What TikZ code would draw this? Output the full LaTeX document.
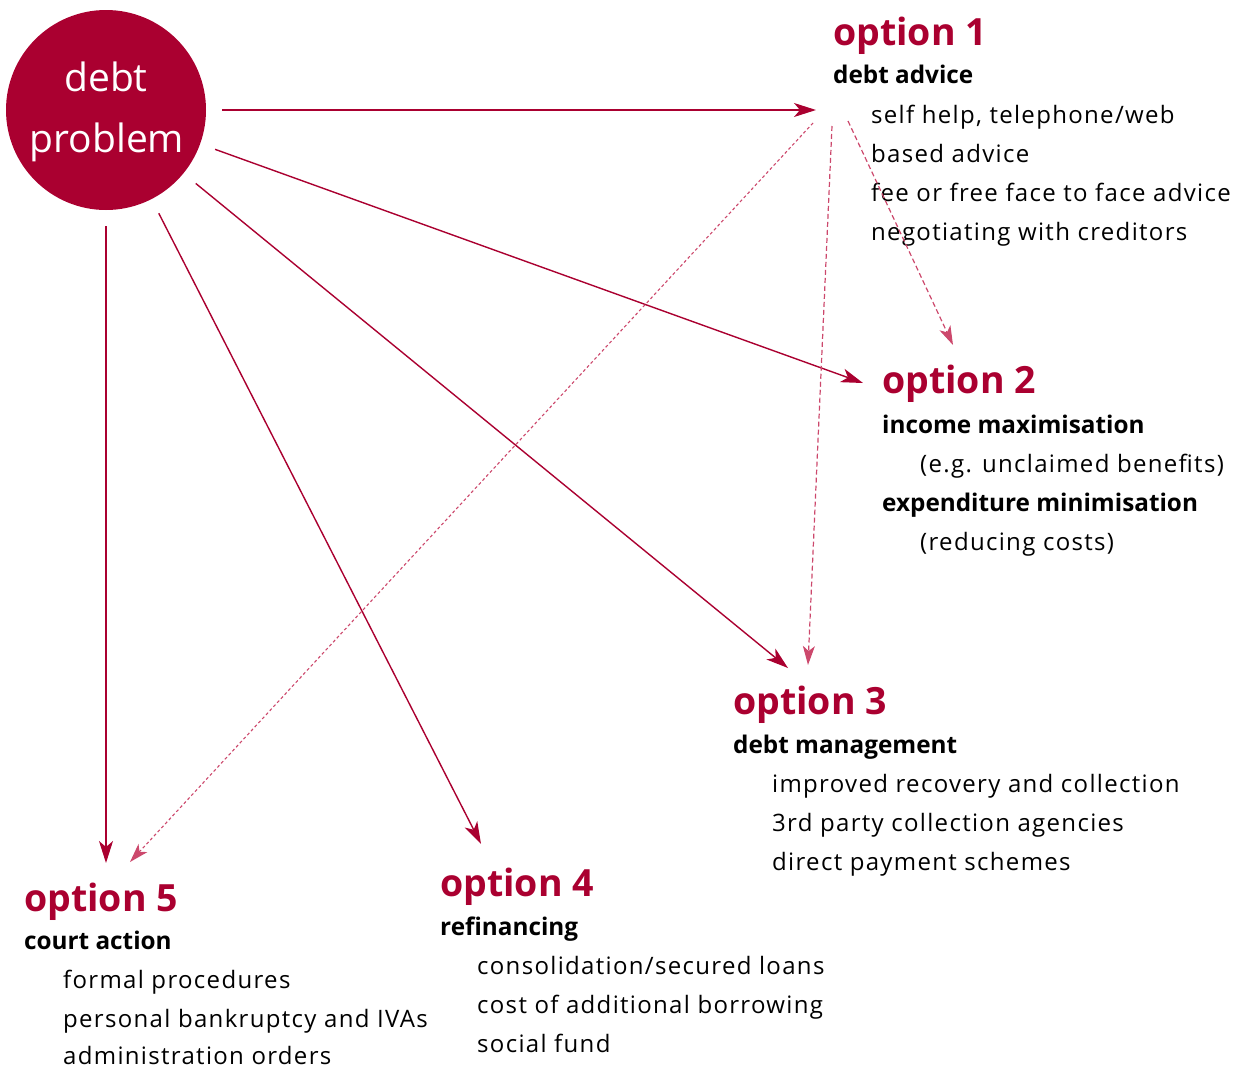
\documentclass[tikz,border=0pt]{standalone}
\usepackage{fontspec}
\setmainfont{Open Sans}
\newfontfamily\itemfont[LetterSpace=5.5]{Open Sans}
\usetikzlibrary{arrows.meta}
\definecolor{crim}{RGB}{170,0,48}
\definecolor{pinkd}{RGB}{204,72,108}
\tikzset{
  head/.style={anchor=base west, inner sep=0pt, text=crim, font=\fontsize{37.5}{40}\selectfont\bfseries},
  sub/.style={anchor=base west, inner sep=0pt, font=\fontsize{24.3}{26}\selectfont\bfseries},
  item/.style={anchor=base west, inner sep=0pt, font=\itemfont\fontsize{24}{26}\selectfont},
  solidarrow/.style={draw=crim, line width=1.4pt, -{Stealth[length=22pt, width=14pt, inset=6pt]}},
  dasharrow/.style={draw=pinkd, line width=1.2pt, dash pattern=on 5pt off 3pt, -{Stealth[length=19pt, width=12pt, inset=5pt, color=pinkd]}},
  dotarrow/.style={draw=pinkd, line width=1.1pt, dash pattern=on 3pt off 2.5pt, -{Stealth[length=19pt, width=12pt, inset=5pt, color=pinkd]}}
}
\begin{document}
\begin{tikzpicture}[x=1pt, y=-1pt]
\useasboundingbox (0,0) rectangle (1248,1068);
% central circle
\node[circle, fill=crim, minimum size=200pt, inner sep=0pt, outer sep=16pt] (debt) at (106,110) {};
\node[anchor=base, inner sep=0pt, text=white, font=\fontsize{39}{42}\selectfont] (debtA) at (106,91) {debt};
\node[anchor=base, inner sep=0pt, text=white, font=\fontsize{39}{42}\selectfont] (debtB) at (107,152) {problem};

% option 1
\node[head] (o1h) at (833,45) {option 1};
\node[sub] (o1s) at (833,83) {debt advice};
\node[item] (o1a) at (871,123) {self help, telephone/web};
\node[item] (o1b) at (871,162) {based advice};
\node[item] (o1c) at (871,201) {fee or free face to face advice};
\node[item] (o1d) at (871,240) {negotiating with creditors};

% option 2
\node[head] (o2h) at (882,393) {option 2};
\node[sub] (o2s) at (882,433) {income maximisation};
\node[item] (o2a) at (920,472) {(e.g. unclaimed benefits)};
\node[sub] (o2t) at (882,511) {expenditure minimisation};
\node[item] (o2b) at (920,550) {(reducing costs)};

% option 3
\node[head] (o3h) at (733,714) {option 3};
\node[sub] (o3s) at (733,753) {debt management};
\node[item] (o3a) at (772,792) {improved recovery and collection};
\node[item] (o3b) at (772,831) {3rd party collection agencies};
\node[item] (o3c) at (772,870) {direct payment schemes};

% option 4
\node[head] (o4h) at (440,896) {option 4};
\node[sub] (o4s) at (440,935) {refinancing};
\node[item] (o4a) at (477,974) {consolidation/secured loans};
\node[item] (o4b) at (477,1013) {cost of additional borrowing};
\node[item] (o4c) at (477,1052) {social fund};

% option 5
\node[head] (o5h) at (24,911) {option 5};
\node[sub] (o5s) at (24,949) {court action};
\node[item] (o5a) at (63,988) {formal procedures};
\node[item] (o5b) at (63,1027) {personal bankruptcy and IVAs};
\node[item] (o5c) at (63,1064) {administration orders};

% arrow ends
\coordinate (t1) at (816,110);
\coordinate (t2) at (863,383);
\coordinate (t3) at (788,668);
\coordinate (t4) at (481,844);
\coordinate (t5) at (106,863);
\coordinate (sa) at (848,121);
\coordinate (ta) at (953,345);
\coordinate (sb) at (832,126);
\coordinate (tb) at (808,665);
\coordinate (sc) at (813,123);
\coordinate (tc) at (130,862);

\draw[solidarrow] (debt) -- (t1);
\draw[solidarrow] (debt) -- (t2);
\draw[solidarrow] (debt) -- (t3);
\draw[solidarrow] (debt) -- (t4);
\draw[solidarrow] (debt) -- (t5);
\draw[dasharrow] (sa) -- (ta);
\draw[dasharrow] (sb) -- (tb);
\draw[dotarrow] (sc) -- (tc);
\end{tikzpicture}
\end{document}
